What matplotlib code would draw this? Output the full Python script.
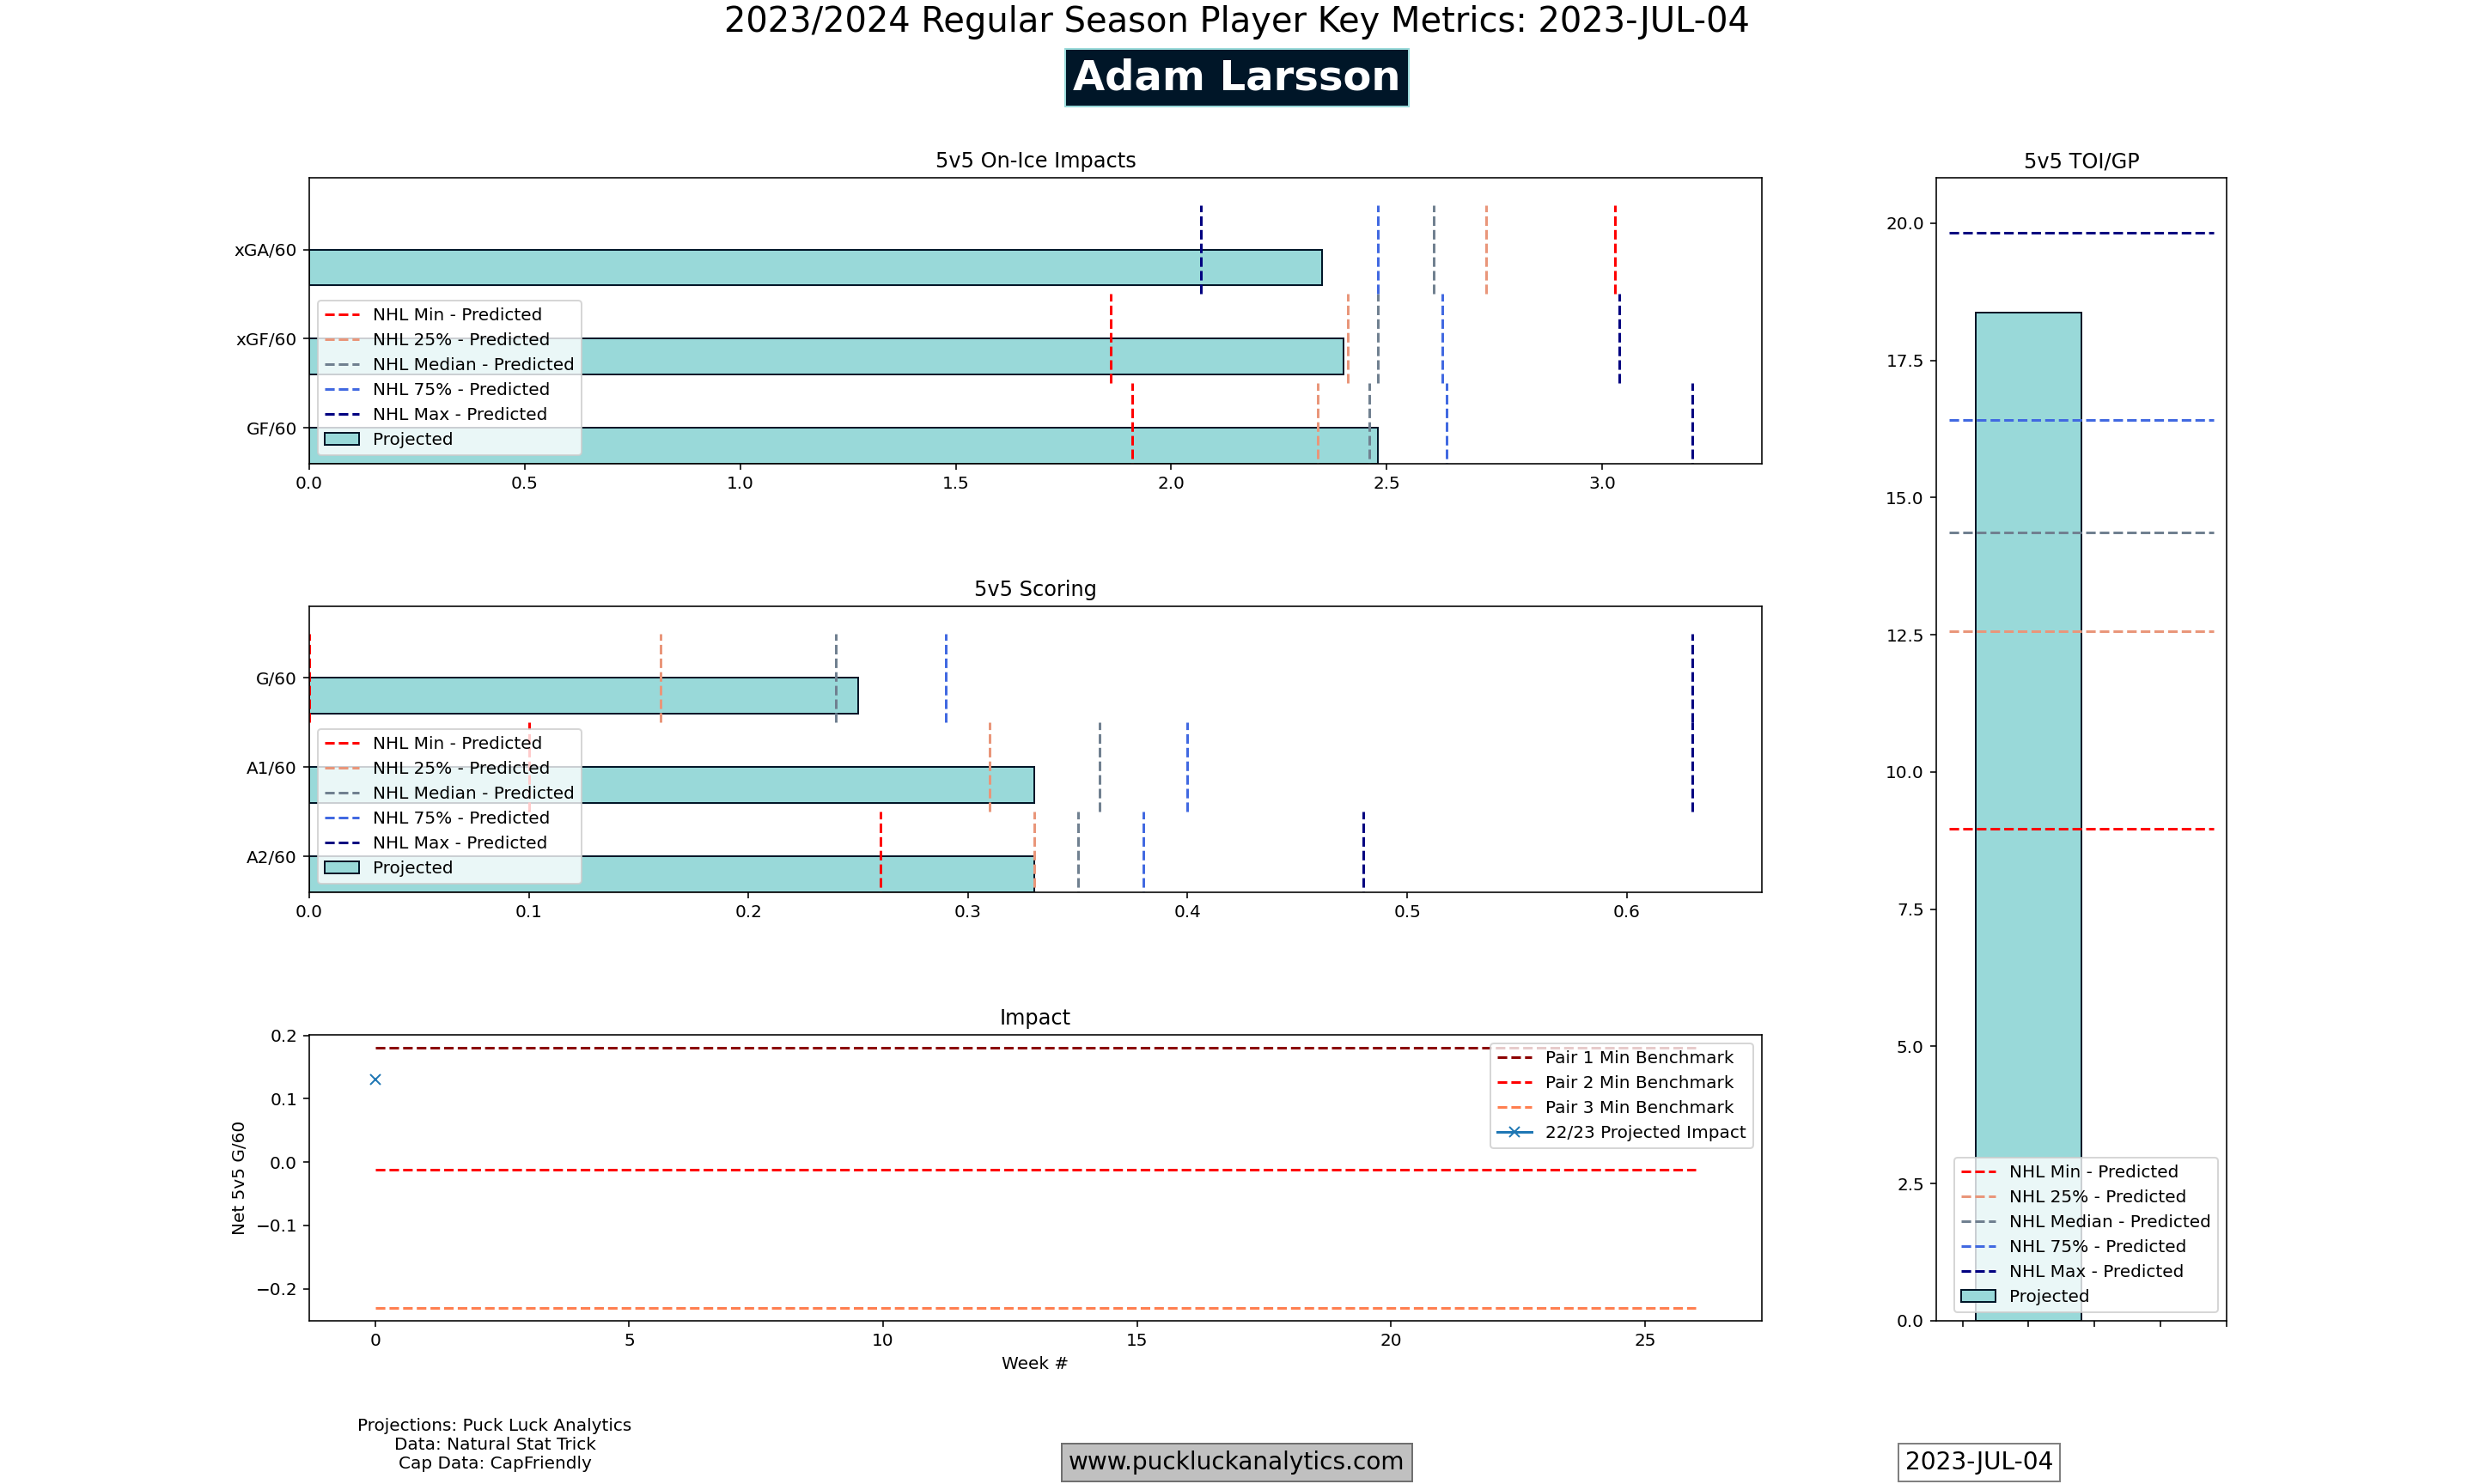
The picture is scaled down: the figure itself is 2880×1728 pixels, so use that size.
import matplotlib
matplotlib.use('Agg')
import matplotlib.pyplot as plt
import numpy as np

# ---- data ----
player = 'Adam Larsson'
run_date = '2023-JUL-04'

onice_cats = ['GF/60', 'xGF/60', 'xGA/60']
onice_proj = [2.48, 2.40, 2.35]
onice_min = [1.91, 1.86, 3.03]
onice_25 = [2.34, 2.41, 2.73]
onice_med = [2.46, 2.48, 2.61]
onice_75 = [2.64, 2.63, 2.48]
onice_max = [3.21, 3.04, 2.07]

scoring_cats = ['A2/60', 'A1/60', 'G/60']
scoring_proj = [0.33, 0.33, 0.25]
scoring_min = [0.26, 0.10, 0.00]
scoring_25 = [0.33, 0.31, 0.16]
scoring_med = [0.35, 0.36, 0.24]
scoring_75 = [0.38, 0.40, 0.29]
scoring_max = [0.48, 0.63, 0.63]

toi_proj = 18.37
toi_min = 8.97
toi_25 = 12.56
toi_med = 14.37
toi_75 = 16.41
toi_max = 19.83

weeks = list(range(27))
pair1_bench = 0.18
pair2_bench = -0.012
pair3_bench = -0.23
proj_week = [0]
proj_impact = [0.13]

bar_color = '#99D9D9'
bar_edge = '#001628'
stat_colors = ['red', 'darksalmon', 'slategray', 'royalblue', 'navy']
stat_labels = ['NHL Min - Predicted', 'NHL 25% - Predicted', 'NHL Median - Predicted',
               'NHL 75% - Predicted', 'NHL Max - Predicted']


def bar_panel(ax, cats, proj, stats, title):
    y = np.arange(len(cats))
    ax.barh(y, proj, height=-0.4, align='edge', color=bar_color, edgecolor=bar_edge,
            label='Projected', zorder=1)
    for vals, c, lab in zip(stats, stat_colors, stat_labels):
        ax.vlines(vals, y - 0.5, y + 0.5, colors=c, linestyles='--', label=lab, zorder=2)
    ax.set_yticks(y)
    ax.set_yticklabels(cats)
    ax.set_ylim(-0.4, 2.8)
    ax.set_title(title)
    ax.legend(loc='lower left')


fig = plt.figure(figsize=(20, 12), dpi=144)
gs = fig.add_gridspec(3, 2, width_ratios=[5, 1], hspace=0.5)

ax1 = fig.add_subplot(gs[0, 0])
bar_panel(ax1, onice_cats, onice_proj,
          [onice_min, onice_25, onice_med, onice_75, onice_max], '5v5 On-Ice Impacts')

ax2 = fig.add_subplot(gs[1, 0])
bar_panel(ax2, scoring_cats, scoring_proj,
          [scoring_min, scoring_25, scoring_med, scoring_75, scoring_max], '5v5 Scoring')

# weekly impact panel
ax3 = fig.add_subplot(gs[2, 0])
ax3.plot(weeks, [pair1_bench] * len(weeks), '--', color='darkred', label='Pair 1 Min Benchmark')
ax3.plot(weeks, [pair2_bench] * len(weeks), '--', color='red', label='Pair 2 Min Benchmark')
ax3.plot(weeks, [pair3_bench] * len(weeks), '--', color='coral', label='Pair 3 Min Benchmark')
ax3.plot(proj_week, proj_impact, marker='x', color='tab:blue', label='22/23 Projected Impact')
ax3.set_title('Impact')
ax3.set_xlabel('Week #')
ax3.set_ylabel('Net 5v5 G/60')
ax3.legend(loc='upper right')

# TOI panel
ax4 = fig.add_subplot(gs[:, 1])
ax4.bar(0, toi_proj, width=0.8, color=bar_color, edgecolor=bar_edge, label='Projected', zorder=1)
for val, c, lab in zip([toi_min, toi_25, toi_med, toi_75, toi_max], stat_colors, stat_labels):
    ax4.hlines(val, -0.6, 1.4, colors=c, linestyles='--', label=lab, zorder=2)
ax4.tick_params(axis='x', labelbottom=False)
ax4.set_title('5v5 TOI/GP')
ax4.legend(loc='lower right')

# header and footer text
fig.text(0.5, 0.9786, '2023/2024 Regular Season Player Key Metrics: ' + run_date,
         ha='center', va='baseline', fontsize=20)
fig.text(0.5, 0.9398, player, ha='center', va='baseline', fontsize=24, fontweight='bold',
         color='white', bbox=dict(boxstyle='square,pad=0.2', facecolor=bar_edge, edgecolor=bar_color))
fig.text(0.2, 0.008, 'Projections: Puck Luck Analytics\nData: Natural Stat Trick\nCap Data: CapFriendly',
         ha='center', va='bottom', fontsize=10)
fig.text(0.5, 0.01, 'www.puckluckanalytics.com', ha='center', fontsize=14,
         bbox=dict(facecolor='#c0c0c0', edgecolor='#707070'))
fig.text(0.8, 0.01, run_date, ha='center', fontsize=14,
         bbox=dict(facecolor='white', edgecolor='#808080'))

fig.savefig('out.png', dpi=144)
